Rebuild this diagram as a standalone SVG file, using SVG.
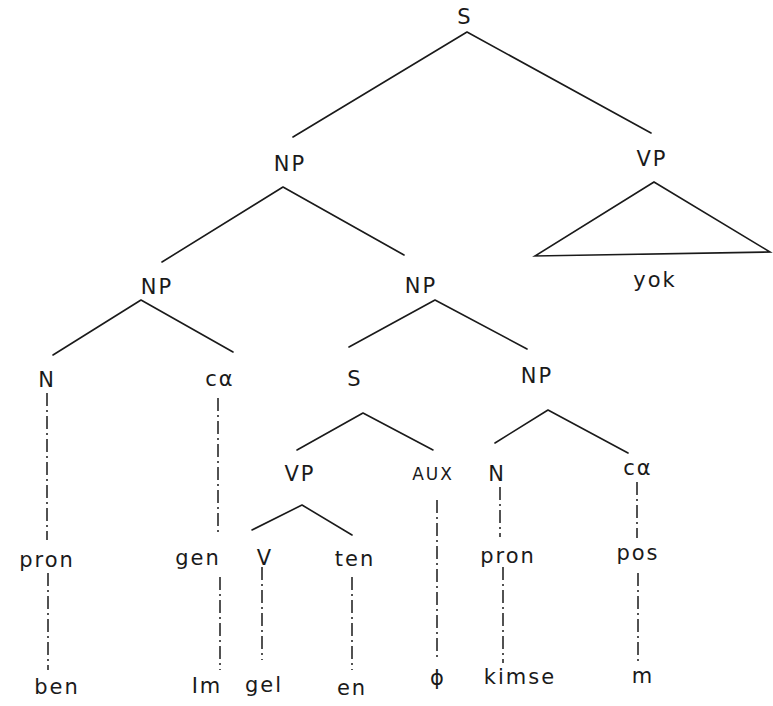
<svg xmlns="http://www.w3.org/2000/svg" width="773" height="706" viewBox="0 0 773 706">
<style>
text{font-family:"DejaVu Sans","Liberation Sans",sans-serif;font-size:21px;fill:#1a1a1a;text-anchor:middle;letter-spacing:2px}
.e{stroke:#1a1a1a;stroke-width:1.6;fill:none;stroke-linecap:round}
.d{stroke:#1a1a1a;stroke-width:1.5;fill:none;stroke-dasharray:13 4 2 4}
</style>
<rect width="773" height="706" fill="#fff"/>
<g id="connectors">
<path class="e" d="M467 32L293 137M467 32L651 133"/>
<path class="e" d="M283 187L162 262M283 187L404 255"/>
<path class="e" d="M654 182L535 256L770 252Z"/>
<path class="e" d="M141 300L53 355M141 300L233 352"/>
<path class="e" d="M435 300L349 347M435 300L527 349"/>
<path class="e" d="M363 413L297 450M363 413L433 450"/>
<path class="e" d="M548 410L495 443M548 410L628 453"/>
<path class="e" d="M302 505L252 530M302 505L352 535"/>
<path class="d" d="M47 393V540M48 573V670M218 398V533M220 577V670M262 567V660M352 577V670M437 500V660M500 487V537M503 567V663M637 482V538M638 573V662"/>
</g>
<g id="n-s"><text x="465" y="24">S</text></g>
<g id="n-np1"><text x="290" y="171">NP</text></g>
<g id="n-vp1"><text x="652" y="166">VP</text></g>
<g id="n-yok"><text x="655" y="287">yok</text></g>
<g id="n-np2"><text x="157" y="294">NP</text></g>
<g id="n-np3"><text x="421" y="293">NP</text></g>
<g id="n-n1"><text x="47" y="387">N</text></g>
<g id="n-ca1"><text x="220" y="386">cα</text></g>
<g id="n-s2"><text x="355" y="386">S</text></g>
<g id="n-np4"><text x="537" y="383">NP</text></g>
<g id="n-vp2"><text x="300" y="481">VP</text></g>
<g id="n-aux"><text x="433" y="480" style="font-size:17px">AUX</text></g>
<g id="n-n2"><text x="497" y="481">N</text></g>
<g id="n-ca2"><text x="638" y="475">cα</text></g>
<g id="n-pron1"><text x="47" y="567">pron</text></g>
<g id="n-gen"><text x="198" y="565">gen</text></g>
<g id="n-v"><text x="265" y="565">V</text></g>
<g id="n-ten"><text x="355" y="566">ten</text></g>
<g id="n-pron2"><text x="508" y="563">pron</text></g>
<g id="n-pos"><text x="638" y="560">pos</text></g>
<g id="n-ben"><text x="57" y="694">ben</text></g>
<g id="n-im"><text x="207" y="693">Im</text></g>
<g id="n-gel"><text x="264" y="692">gel</text></g>
<g id="n-en"><text x="352" y="695">en</text></g>
<g id="n-null"><text x="438" y="685">ϕ</text></g>
<g id="n-kimse"><text x="520" y="684">kimse</text></g>
<g id="n-m"><text x="643" y="683">m</text></g>
</svg>
